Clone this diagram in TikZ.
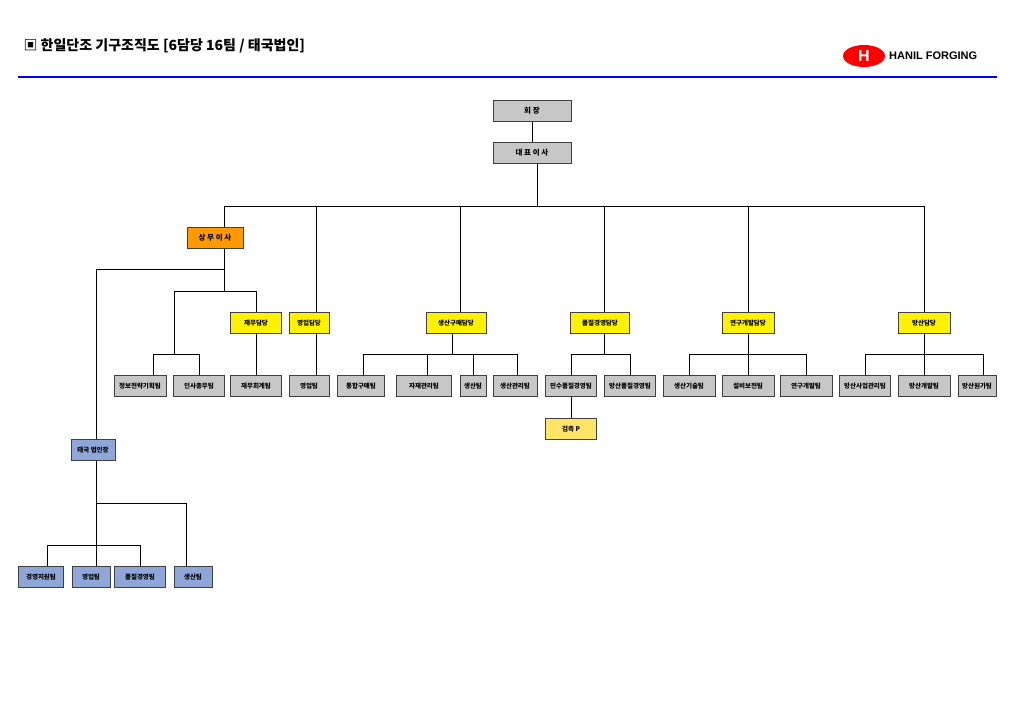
\documentclass[tikz,border=0pt]{standalone}
\usepackage{fontspec}
\usetikzlibrary{shapes.geometric}
\newfontfamily\kr{Noto Sans CJK KR}[BoldFont={Noto Sans CJK KR Black}]
\newfontfamily\lsans{Liberation Sans}
\begin{document}
\begin{tikzpicture}[x=1pt,y=-1pt,
 box/.style={draw=black!75,line width=0.9pt,minimum height=21pt,inner sep=1pt,font=\kr\bfseries\fontsize{6.5}{7}\selectfont},
 gb/.style={box,fill=black!22},
 yb/.style={box,fill=yellow},
 ob/.style={box,fill=orange!80!yellow},
 pb/.style={box,fill=orange!35!yellow!60},
 bb/.style={box,fill={rgb,255:red,142;green,166;blue,216}},
 ln/.style={line width=0.8pt}]
\useasboundingbox (0,0) rectangle (1024,726);
\node[anchor=west,font=\kr\bfseries\fontsize{14}{16}\selectfont] (title) at (20,46) {▣ 한일단조 기구조직도 [6담당 16팀 / 태국법인]};
\draw[blue,line width=2pt] (18,77) -- (997,77);
\node[ellipse,fill=red,minimum width=42pt,minimum height=22pt,inner sep=0pt,font=\lsans\bfseries\fontsize{16}{16}\selectfont,text=white] (logo) at (864,56) {H};
\node[anchor=west,inner sep=0pt,font=\lsans\bfseries\fontsize{11}{12}\selectfont] (lt) at (889,56) {HANIL FORGING};
% top
\node[gb,minimum width=78pt,font=\kr\bfseries\fontsize{7.5}{8}\selectfont] (hoe) at (532,111) {회 장};
\node[gb,minimum width=78pt,font=\kr\bfseries\fontsize{7.5}{8}\selectfont] (dae) at (532,153) {대 표 이 사};
\draw[ln] (hoe) -- (dae);
\coordinate (t1) at (224,206); \coordinate (t2) at (316,206); \coordinate (t3) at (460,206);
\coordinate (t4) at (604,206); \coordinate (t5) at (748,206); \coordinate (t6) at (924,206);
\draw[ln] (t1) -- (t6);
\draw[ln] (dae.south -| 537,0) -- (537,206);
\node[ob,minimum width=56pt,font=\kr\bfseries\fontsize{7.5}{8}\selectfont] (sm) at (215,238) {상 무 이 사};
\node[yb,minimum width=51pt] (jm) at (256,323) {재무담당};
\node[yb,minimum width=40pt] (yd) at (309,323) {영업담당};
\node[yb,minimum width=60pt] (sg) at (456,323) {생산구매담당};
\node[yb,minimum width=59pt] (pj) at (600,323) {품질경영담당};
\node[yb,minimum width=52pt] (yg) at (748,323) {연구개발담당};
\node[yb,minimum width=52pt] (bs) at (924,323) {방산담당};
\draw[ln] (t1) -- (sm.north -| t1);
\draw[ln] (t2) -- (yd.north -| t2);
\draw[ln] (t3) -- (sg.north -| t3);
\draw[ln] (t4) -- (pj.north -| t4);
\draw[ln] (t5) -- (yg.north -| t5);
\draw[ln] (t6) -- (bs.north -| t6);
% sangmu branch
\coordinate (s0) at (224,291);
\draw[ln] (sm.south -| s0) -- (224,291);
\draw[ln] (224,269) -- (96,269);
\node[bb,minimum width=44pt] (th) at (93,450) {태국 법인장};
\draw[ln] (96,269) -- (th.north -| 96,0);
\draw[ln] (174,291) -- (256,291);
\draw[ln] (256,291) -- (jm.north);
\draw[ln] (174,291) -- (174,354);
\draw[ln] (153,354) -- (199,354);
\node[gb,minimum width=52pt] (c1) at (140,386) {정보전략기획팀};
\node[gb,minimum width=51pt] (c2) at (199,386) {인사총무팀};
\node[gb,minimum width=51pt] (c3) at (256,386) {재무회계팀};
\node[gb,minimum width=40pt] (c4) at (309,386) {영업팀};
\draw[ln] (153,354) -- (c1.north -| 153,0);
\draw[ln] (199,354) -- (c2.north);
\draw[ln] (jm) -- (c3);
\draw[ln] (yd.south -| 316,0) -- (c4.north -| 316,0);
% production
\draw[ln] (sg.south -| 452,0) -- (452,354);
\draw[ln] (363,354) -- (517,354);
\node[gb,minimum width=47pt] (p1) at (361,386) {통합구매팀};
\node[gb,minimum width=55pt] (p2) at (424,386) {자재관리팀};
\node[gb,minimum width=26pt] (p3) at (473,386) {생산팀};
\node[gb,minimum width=44pt] (p4) at (515,386) {생산관리팀};
\draw[ln] (363,354) -- (p1.north -| 363,0);
\draw[ln] (427,354) -- (p2.north -| 427,0);
\draw[ln] (473,354) -- (p3.north);
\draw[ln] (517,354) -- (p4.north -| 517,0);
% quality
\draw[ln] (pj.south -| 604,0) -- (604,354);
\draw[ln] (571,354) -- (630,354);
\node[gb,minimum width=51pt] (q1) at (571,386) {민수품질경영팀};
\node[gb,minimum width=51pt] (q2) at (630,386) {방산품질경영팀};
\node[pb,minimum width=51pt] (q3) at (571,429) {검측 P};
\draw[ln] (571,354) -- (q1.north);
\draw[ln] (630,354) -- (q2.north);
\draw[ln] (q1) -- (q3);
% R&D
\draw[ln] (yg) -- (748,354);
\draw[ln] (689,354) -- (806,354);
\node[gb,minimum width=52pt] (r1) at (689,386) {생산기술팀};
\node[gb,minimum width=52pt] (r2) at (748,386) {설비보전팀};
\node[gb,minimum width=52pt] (r3) at (806,386) {연구개발팀};
\draw[ln] (689,354) -- (r1.north);
\draw[ln] (748,354) -- (r2.north);
\draw[ln] (806,354) -- (r3.north);
% defense
\draw[ln] (bs) -- (924,354);
\draw[ln] (865,354) -- (983,354);
\node[gb,minimum width=51pt] (d1) at (865,386) {방산사업관리팀};
\node[gb,minimum width=52pt] (d2) at (924,386) {방산개발팀};
\node[gb,minimum width=38pt] (d3) at (977,386) {방산원가팀};
\draw[ln] (865,354) -- (d1.north);
\draw[ln] (924,354) -- (d2.north);
\draw[ln] (983,354) -- (d3.north -| 983,0);
% Thailand
\node[bb,minimum width=45pt] (e1) at (41,577) {경영지원팀};
\node[bb,minimum width=38pt] (e2) at (91,577) {영업팀};
\node[bb,minimum width=51pt] (e3) at (140,577) {품질경영팀};
\node[bb,minimum width=38pt] (e4) at (193,577) {생산팀};
\draw[ln] (th.south -| 96,0) -- (e2.north -| 96,0);
\draw[ln] (96,503) -- (186,503) -- (e4.north -| 186,0);
\draw[ln] (47,545) -- (140,545);
\draw[ln] (47,545) -- (e1.north -| 47,0);
\draw[ln] (140,545) -- (e3.north);
\end{tikzpicture}
\end{document}
